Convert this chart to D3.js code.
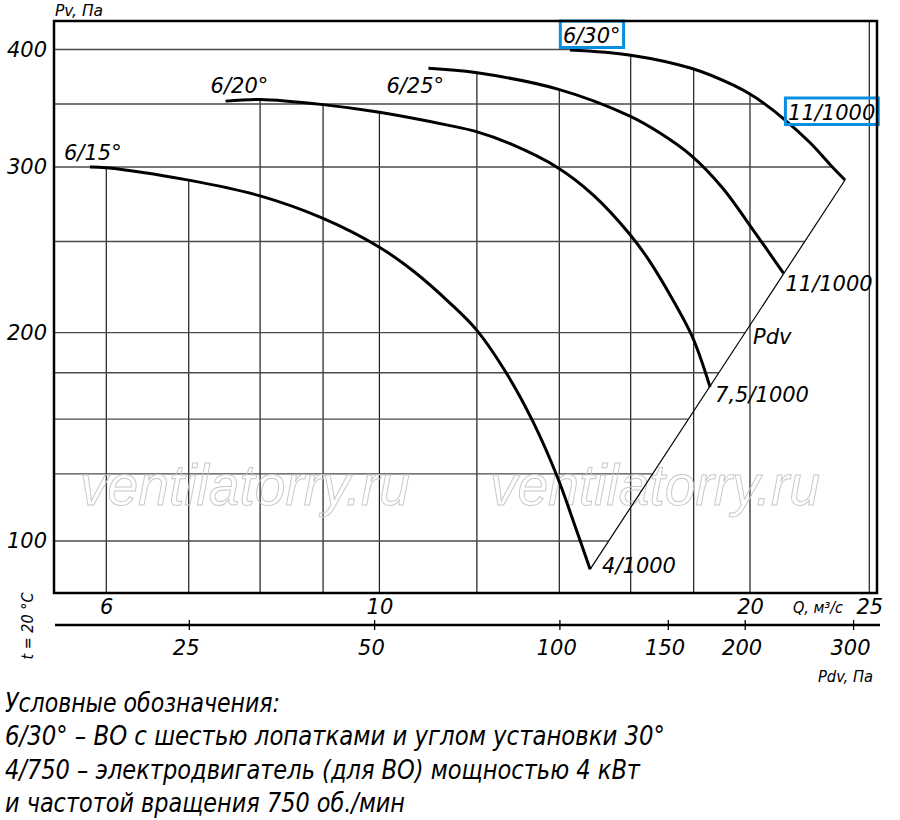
<!DOCTYPE html>
<html lang="ru">
<head>
<meta charset="utf-8">
<title>Аэродинамическая характеристика вентилятора</title>
<script src="https://cdn.jsdelivr.net/npm/d3@7"></script>
<style>
  body { margin: 0; background: #fff; }
  svg { display: block; }
  .num { font-family: "DejaVu Sans", sans-serif; font-style: italic; font-size: 21px; fill: #000; }
  .cond { font-family: "Liberation Sans Narrow", "DejaVu Sans Condensed", "Arial Narrow", sans-serif;
          font-style: italic; font-stretch: condensed; fill: #000; }
  .grid-h { stroke: #4a4a4a; stroke-width: 1.4; }
  .grid-v { stroke: #1c1c1c; stroke-width: 1.2; }
  .curve { fill: none; stroke: #000; stroke-width: 3; }
  .pdv-line { fill: none; stroke: #000; stroke-width: 1.2; }
  .frame { fill: none; stroke: #000; stroke-width: 2.5; }
  .mark-box { fill: none; stroke: #0a8ee0; stroke-width: 3; }
  .watermark { font-family: "Liberation Sans", Arial, sans-serif; font-style: italic; font-size: 58px;
               fill: none; stroke: #c8c8c8; stroke-width: 1; }
</style>
</head>
<body>
<svg id="chart"></svg>
<script>
// Q, м³/с and Pv, Па (6 blades, angle 15..30°)
const q615  = [5.82, 6, 7, 8, 9, 10, 10.66, 11.41, 12, 12.69, 13.33, 13.96, 14.37, 14.83];
const pv615 = [300, 299.5, 290.5, 279.5, 264.5, 246.5, 232.4, 215, 201.1, 174.4, 148.6, 123.3, 106.9, 91];

const q620  = [7.5, 8, 9, 10, 11.41, 11.97, 12.77, 13.96, 14.92, 15.96, 16.59, 17.88, 18.22, 18.56];
const pv620 = [352.5, 354, 349.5, 343, 332, 327.3, 317.6, 299.5, 280.1, 254.8, 237.8, 200.4, 184.4, 166.9];

const q625  = [10.96, 11.97, 13.96, 15.96, 16.9, 17.92, 19, 20.04, 21.29];
const pv625 = [382, 378, 363, 340, 326, 308.5, 285, 259, 231.3];

const q630  = [14.28, 16, 17.92, 19.39, 20.04, 20.44, 21.29, 22.37, 23.3, 23.89];
const pv630 = [399.5, 394.5, 382, 366.5, 358, 352, 337.8, 318.5, 300.6, 290.6];

const bladeLabels = ['6/15°', '6/20°', '6/25°', '6/30°'];
const motorLabels = ['4/1000', '7,5/1000', '11/1000', '11/1000'];

// axes
const qTicks   = [6, 10, 20, 25];
const qGrid    = [6, 7, 8, 9, 10, 12, 14, 16, 18, 20, 25];
const pvTicks  = [400, 300, 200, 100];
const pvGrid   = [400, 350, 300, 250, 200, 175, 150, 125, 100];
const pdvTicks = [25, 50, 100, 150, 200, 300];
const pdvCoef  = 0.51;   // Pdv = k·Q²

const legendLines = [
  'Условные обозначения:',
  '6/30° – ВО с шестью лопатками и углом установки 30°',
  '4/750 – электродвигатель (для ВО) мощностью 4 кВт',
  'и частотой вращения 750 об./мин'
];

class FanChart {

  constructor(_config, _data) {
    this.config = {
      parentElement: _config.parentElement,
      containerWidth: _config.containerWidth || 900,
      containerHeight: _config.containerHeight || 820,
      plot: {left: 54, top: 21, right: 877, bottom: 593},
      qRange: [106.3, 869.3],
      pvRange: [541, 332.6, 49.5],
      pdvAxisY: 625,
      startOffsets: [[-26, -7], [-15, -8], [-42, 25], [-7, -7]],
      endOffsets: [[12, 3.5], [5, 15], [2, 18], [-57, -60]],
      legendWidths: [275, 660, 635, 400],
      legendTop: 712,
      legendStep: 33.4
    };
    this.data = _data;
    this.initVis();
  }

  initVis() {
    let vis = this;
    const p = vis.config.plot;

    vis.xScale = d3.scaleLog().domain([qGrid[0], qGrid[qGrid.length - 1]]).range(vis.config.qRange);
    // the Pv scale of the original is log, but squeezed below 200 Па
    vis.yScale = d3.scaleLog().domain([100, 200, 400]).range(vis.config.pvRange);
    // Pdv grows as Q², so its log axis shares the Q range
    vis.pdvScale = d3.scaleLog()
        .domain(vis.xScale.domain().map(q => pdvCoef * q * q))
        .range(vis.xScale.range());

    vis.svg = d3.select(vis.config.parentElement)
        .attr('width', vis.config.containerWidth)
        .attr('height', vis.config.containerHeight);

    vis.gridG = vis.svg.append('g');
    vis.markG = vis.svg.append('g');
    vis.curveG = vis.svg.append('g');
    vis.textG = vis.svg.append('g');

    vis.svg.append('rect')
        .attr('class', 'frame')
        .attr('x', p.left).attr('y', p.top)
        .attr('width', p.right - p.left).attr('height', p.bottom - p.top);

    vis.line = d3.line()
        .x(d => vis.xScale(d.q))
        .y(d => vis.yScale(d.pv))
        .curve(d3.curveCatmullRom.alpha(0.5));
  }

  updateVis() {
    let vis = this;
    vis.series = vis.data.map(s => s.q.map((q, i) => ({q: q, pv: s.pv[i]})));
    vis.renderVis();
  }

  samplePath(node, n) {
    const len = node.getTotalLength();
    return d3.range(n + 1).map(i => node.getPointAtLength(len * i / n));
  }

  renderVis() {
    let vis = this;
    const p = vis.config.plot;

    // curves
    const paths = vis.curveG.selectAll('.curve')
        .data(vis.series)
      .join('path')
        .attr('class', 'curve')
        .attr('d', vis.line);

    const samples = paths.nodes().map(n => vis.samplePath(n, 600));

    // system line through the curve ends
    const first = vis.series[0][vis.series[0].length - 1];
    const last = vis.series[3][vis.series[3].length - 1];
    const a = {x: vis.xScale(first.q), y: vis.yScale(first.pv)};
    const b = {x: vis.xScale(last.q), y: vis.yScale(last.pv)};
    vis.curveG.append('path')
        .attr('class', 'pdv-line')
        .attr('d', d3.line()([[a.x, a.y], [b.x, b.y]]));

    // vertical grid stops at the topmost curve
    const topAt = px => {
      let top = null;
      samples.forEach(pts => {
        if (px < pts[0].x || px > pts[pts.length - 1].x) return;
        const i = d3.bisector(d => d.x).left(pts, px);
        const s0 = pts[Math.max(0, i - 1)], s1 = pts[i];
        const t = (px - s0.x) / ((s1.x - s0.x) || 1);
        const yy = s0.y + t * (s1.y - s0.y);
        if (top === null || yy < top) top = yy;
      });
      return top === null ? p.top : top;
    };

    vis.gridG.selectAll('.grid-v')
        .data(qGrid)
      .join('line')
        .attr('class', 'grid-v')
        .attr('x1', d => vis.xScale(d)).attr('x2', d => vis.xScale(d))
        .attr('y1', d => topAt(vis.xScale(d)))
        .attr('y2', p.bottom);

    // horizontal grid stops at the outer curve and the Pdv line
    const outer = samples[3];
    const rightAt = py => {
      if (py <= outer[0].y) return outer[0].x;
      if (py <= outer[outer.length - 1].y) {
        for (let i = 1; i < outer.length; i++) {
          if (outer[i].y >= py) {
            const s0 = outer[i - 1], s1 = outer[i];
            const t = (py - s0.y) / ((s1.y - s0.y) || 1);
            return s0.x + t * (s1.x - s0.x);
          }
        }
      }
      return b.x + (py - b.y) * (a.x - b.x) / (a.y - b.y);
    };

    vis.gridG.selectAll('.grid-h')
        .data(pvGrid)
      .join('line')
        .attr('class', 'grid-h')
        .attr('x1', p.left)
        .attr('x2', d => rightAt(vis.yScale(d)))
        .attr('y1', d => vis.yScale(d)).attr('y2', d => vis.yScale(d));

    // watermark
    vis.markG.selectAll('text')
        .data([80, 490])
      .join('text')
        .attr('class', 'watermark')
        .attr('x', d => d).attr('y', 505)
        .attr('textLength', 330).attr('lengthAdjust', 'spacingAndGlyphs')
        .text('ventilatorry.ru');

    // axes
    const yAxis = d3.axisLeft(vis.yScale)
        .tickValues(pvTicks).tickSize(0).tickPadding(7).tickFormat(d => d);
    const yG = vis.textG.append('g').attr('transform', `translate(${p.left},0)`).call(yAxis);

    const xAxis = d3.axisBottom(vis.xScale)
        .tickValues(qTicks).tickSize(0).tickPadding(6).tickFormat(d => d);
    const xG = vis.textG.append('g').attr('transform', `translate(0,${p.bottom})`).call(xAxis);

    const pdvAxis = d3.axisBottom(vis.pdvScale)
        .tickValues(pdvTicks).tickSizeInner(10).tickSizeOuter(0).tickPadding(10).tickFormat(d => d);
    const pG = vis.textG.append('g').attr('transform', `translate(0,${vis.config.pdvAxisY - 5})`).call(pdvAxis);

    [yG, xG, pG].forEach(g => {
      g.attr('font-size', null).attr('font-family', null);
      g.select('.domain').remove();
      g.selectAll('text').attr('class', 'num');
    });
    pG.selectAll('line').attr('stroke-width', 1.3);
    pG.selectAll('text').attr('dx', '-0.15em');

    vis.textG.append('line')
        .attr('x1', p.left + 1).attr('x2', 880)
        .attr('y1', vis.config.pdvAxisY).attr('y2', vis.config.pdvAxisY)
        .attr('stroke', '#000').attr('stroke-width', 2.5);

    // axis names
    const names = [
      {t: 'Pv, Па', x: 55, y: 16, s: 15, w: 48},
      {t: 'Q, м³/с', x: 793, y: 613, s: 16, w: 50},
      {t: 'Pdv, Па', x: 818, y: 682, s: 16, w: 55}
    ];
    vis.textG.selectAll('.name')
        .data(names)
      .join('text')
        .attr('class', 'cond name')
        .attr('x', d => d.x).attr('y', d => d.y)
        .attr('font-size', d => d.s)
        .attr('textLength', d => d.w).attr('lengthAdjust', 'spacingAndGlyphs')
        .text(d => d.t);

    vis.textG.append('text')
        .attr('class', 'cond')
        .attr('font-size', 16)
        .attr('text-anchor', 'middle')
        .attr('transform', 'translate(33,626) rotate(-90)')
        .attr('textLength', 67).attr('lengthAdjust', 'spacingAndGlyphs')
        .text('t = 20 °C');

    // curve labels
    const boxed = [];
    vis.series.forEach((s, i) => {
      const s0 = s[0], s1 = s[s.length - 1];
      const o0 = vis.config.startOffsets[i], o1 = vis.config.endOffsets[i];
      const t0 = vis.textG.append('text').attr('class', 'num')
          .attr('x', vis.xScale(s0.q) + o0[0]).attr('y', vis.yScale(s0.pv) + o0[1])
          .text(bladeLabels[i]);
      const t1 = vis.textG.append('text').attr('class', 'num')
          .attr('x', vis.xScale(s1.q) + o1[0]).attr('y', vis.yScale(s1.pv) + o1[1])
          .text(motorLabels[i]);
      if (i === 3) boxed.push(t0.node(), t1.node());
    });

    vis.textG.append('text').attr('class', 'num')
        .attr('x', a.x + (b.x - a.x) * 0.6 + 10)
        .attr('y', a.y + (b.y - a.y) * 0.6 + 8)
        .text('Pdv');

    boxed.forEach(n => {
      const bb = n.getBBox();
      vis.textG.append('rect')
          .attr('class', 'mark-box')
          .attr('x', bb.x - 2.6).attr('y', bb.y - 3)
          .attr('width', bb.width + 5.6).attr('height', bb.height + 2.5);
    });

    // legend
    vis.textG.selectAll('.legend')
        .data(legendLines)
      .join('text')
        .attr('class', 'cond legend')
        .attr('font-size', 26)
        .attr('x', 5)
        .attr('y', (d, i) => vis.config.legendTop + i * vis.config.legendStep)
        .attr('textLength', (d, i) => vis.config.legendWidths[i])
        .attr('lengthAdjust', 'spacingAndGlyphs')
        .text(d => d);
  }
}

const chart = new FanChart({parentElement: '#chart'}, [
  {q: q615, pv: pv615},
  {q: q620, pv: pv620},
  {q: q625, pv: pv625},
  {q: q630, pv: pv630}
]);
chart.updateVis();
</script>
</body>
</html>
